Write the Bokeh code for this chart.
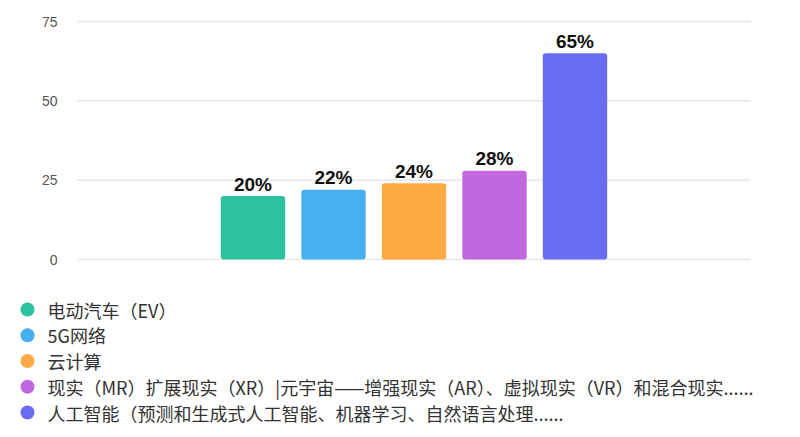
from bokeh.plotting import figure
from bokeh.models import ColumnDataSource, Range1d
from bokeh.core.properties import value
from bokeh.embed import file_html
from bokeh.resources import INLINE

# ---- data ----
categories = [
    "电动汽车（EV）",
    "5G网络",
    "云计算",
    "现实（MR）扩展现实（XR）|元宇宙——增强现实（AR）、虚拟现实（VR）和混合现实......",
    "人工智能（预测和生成式人工智能、机器学习、自然语言处理......",
]
values = [20, 22, 24, 28, 65]
colors = ["#2DC29F", "#48AFF0", "#FFAA45", "#C168DE", "#696CF1"]
y_ticks = [0, 25, 50, 75]

idx = list(range(len(values)))
labels = [f"{v}%" for v in values]
tick_labels = [str(t) for t in y_ticks]

W, H = 800, 437
# layout of the plotting area (pixels)
PLOT_L, PLOT_R, PLOT_T, PLOT_B = 77, 750, 21, 259
BAR_STEP = 80.5          # px per bar slot
Y_PX = (PLOT_B - PLOT_T) / (y_ticks[-1] - y_ticks[0])
LEG_TOP, LEG_STEP = 309, 25.75

bar_center = (PLOT_L + PLOT_R) / 2
mid = (len(values) - 1) / 2

p = figure(width=W, height=H,
           x_range=Range1d(0, W), y_range=Range1d(H, 0),
           x_axis_location=None, y_axis_location=None,
           output_backend="svg", toolbar_location=None, min_border=0)
p.outline_line_color = None
p.xgrid.visible = False
p.ygrid.visible = False
p.background_fill_color = "white"
p.border_fill_color = "white"

p.extra_x_ranges = {"bars": Range1d(mid - bar_center / BAR_STEP,
                                    mid + (W - bar_center) / BAR_STEP)}
p.extra_y_ranges = {
    "val": Range1d(-(H - PLOT_B) / Y_PX, y_ticks[-1] + PLOT_T / Y_PX),
    "leg": Range1d((H - LEG_TOP) / LEG_STEP, -LEG_TOP / LEG_STEP),
}

# grid lines and tick labels
grid_src = ColumnDataSource(dict(y=y_ticks, t=tick_labels))
p.segment(x0=PLOT_L, x1=PLOT_R, y0="y", y1="y", source=grid_src,
          y_range_name="val", line_color="#e6e6e6", line_width=1.5)
p.text(x=PLOT_L - 20, y="y", text="t", source=grid_src, y_range_name="val",
       text_align="right", text_baseline="middle",
       text_font=value("Liberation Sans"), text_font_size="14px",
       text_color="#555555")

# bars
src = ColumnDataSource(dict(x=idx, top=values, color=colors, label=labels))
p.vbar(x="x", top="top", bottom=0, width=0.8, source=src,
       x_range_name="bars", y_range_name="val",
       fill_color="color", line_color=None, border_radius=3)
p.text(x="x", y="top", text="label", source=src,
       x_range_name="bars", y_range_name="val",
       text_align="center", text_baseline="alphabetic", y_offset=-12,
       text_font=value("Liberation Sans"), text_font_style="bold",
       text_font_size="19px", text_color="#111111")

# legend
leg_src = ColumnDataSource(dict(y=idx, color=colors, text=categories))
p.scatter(x=27, y="y", source=leg_src, y_range_name="leg",
          size=14, marker="circle", fill_color="color", line_color=None)
p.text(x=47, y="y", text="text", source=leg_src, y_range_name="leg",
       text_align="left", text_baseline="middle",
       text_font=value("Noto Sans CJK SC"), text_font_size="18px",
       text_color="#333333")

open("out.html", "w").write(file_html(p, INLINE))
